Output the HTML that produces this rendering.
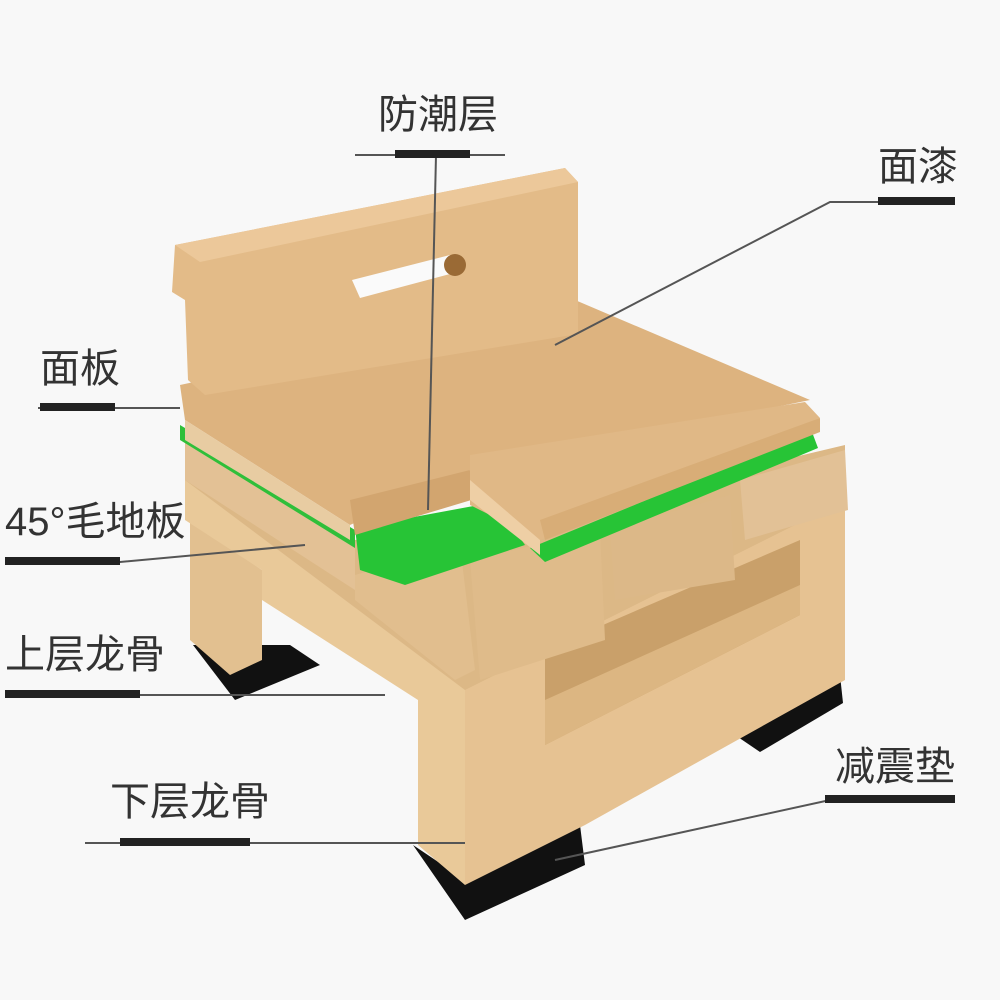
<!DOCTYPE html>
<html><head><meta charset="utf-8"><style>
html,body{margin:0;padding:0;background:#f8f8f8;}
svg{display:block}
text{font-family:"Liberation Sans","Noto Sans CJK SC",sans-serif;fill:#333;font-size:40px}
</style></head><body>
<svg width="1000" height="1000" viewBox="0 0 1000 1000">
<rect width="1000" height="1000" fill="#f8f8f8"/>
<!-- pads -->
<polygon points="193,645 235,700 320,665 290,645" fill="#111"/>
<polygon points="413,845 465,920 585,865 580,825 465,880" fill="#111"/>
<polygon points="735,735 760,752 843,703 840,675" fill="#111"/>
<!-- left leg inner -->
<polygon points="190,520 262,570 262,660 230,675 190,640" fill="#e2c090"/>
<!-- backing fill -->
<polygon points="185,430 355,540 740,470 845,445 845,560 465,700 185,490" fill="#dcb886"/>
<!-- left side face of lower joist -->
<polygon points="185,480 465,690 465,885 418,845 418,700 262,600 262,570 185,520" fill="#e9c999"/>
<!-- front/right face of lower joist -->
<polygon points="465,690 845,500 845,680 585,825 465,885" fill="#e6c292"/>
<polygon points="545,650 800,540 800,615 545,745" fill="#c9a06a"/>
<polygon points="545,700 800,585 800,615 545,745" fill="#dcb682"/>
<!-- upper joist blocks -->
<polygon points="185,440 355,545 355,590 185,480" fill="#e3c195"/>
<polygon points="355,575 460,545 475,670 455,680 355,600" fill="#e1be8e"/>
<polygon points="470,560 600,530 605,640 480,680" fill="#dfbb8a"/>
<polygon points="610,530 730,495 735,580 615,600" fill="#dcb888"/>
<polygon points="740,480 845,450 848,510 745,540" fill="#e2c196"/>
<!-- green layers -->
<polygon points="180,425 355,530 355,548 180,440" fill="#2fbf3a"/>
<polygon points="355,528 495,502 525,545 405,585 360,570" fill="#27c436"/>
<polygon points="530,548 812,432 818,448 545,562" fill="#27c436"/>
<!-- flooring boards -->
<polygon points="180,385 575,300 810,400 470,470 350,525 185,420" fill="#ddb37f"/>
<polygon points="185,420 350,525 350,540 185,440" fill="#e8cca2"/>
<polygon points="350,500 478,468 478,498 355,535" fill="#d2a56f"/>
<polygon points="470,455 805,402 820,418 540,540 470,505" fill="#e0b886"/>
<polygon points="470,480 540,540 540,555 470,500" fill="#eecfa5"/>
<polygon points="540,520 820,418 820,432 545,540" fill="#d8ad77"/>
<!-- backrest -->
<polygon points="175,245 565,168 578,182 578,334 205,395 188,380 185,300 172,292" fill="#e3bb88"/>
<polygon points="175,245 565,168 578,182 200,262" fill="#ecc89a"/>
<polygon points="352,280 450,255 465,270 360,298" fill="#fafafa"/>
<circle cx="455" cy="265" r="11" fill="#9a6a35"/>
<!-- leaders -->
<g stroke="#555" stroke-width="2" fill="none">
<line x1="355" y1="155" x2="505" y2="155"/>
<line x1="436" y1="155" x2="428" y2="510"/>
<polyline points="955,202 830,202 555,345"/>
<line x1="38" y1="408" x2="180" y2="408"/>
<polyline points="5,562 120,562 305,545"/>
<line x1="5" y1="695" x2="385" y2="695"/>
<line x1="85" y1="843" x2="465" y2="843"/>
<polyline points="955,800 830,800 555,860"/>
</g>
<g fill="#222">
<rect x="395" y="150" width="75" height="8"/>
<rect x="878" y="197" width="77" height="8"/>
<rect x="40" y="403" width="75" height="8"/>
<rect x="5" y="557" width="115" height="8"/>
<rect x="5" y="690" width="135" height="8"/>
<rect x="120" y="838" width="130" height="8"/>
<rect x="825" y="795" width="130" height="8"/>
</g>
<text x="378" y="128">防潮层</text>
<text x="878" y="180">面漆</text>
<text x="40" y="382">面板</text>
<text x="5" y="535">45°毛地板</text>
<text x="5" y="668">上层龙骨</text>
<text x="110" y="815">下层龙骨</text>
<text x="835" y="780">减震垫</text>
</svg>
</body></html>
